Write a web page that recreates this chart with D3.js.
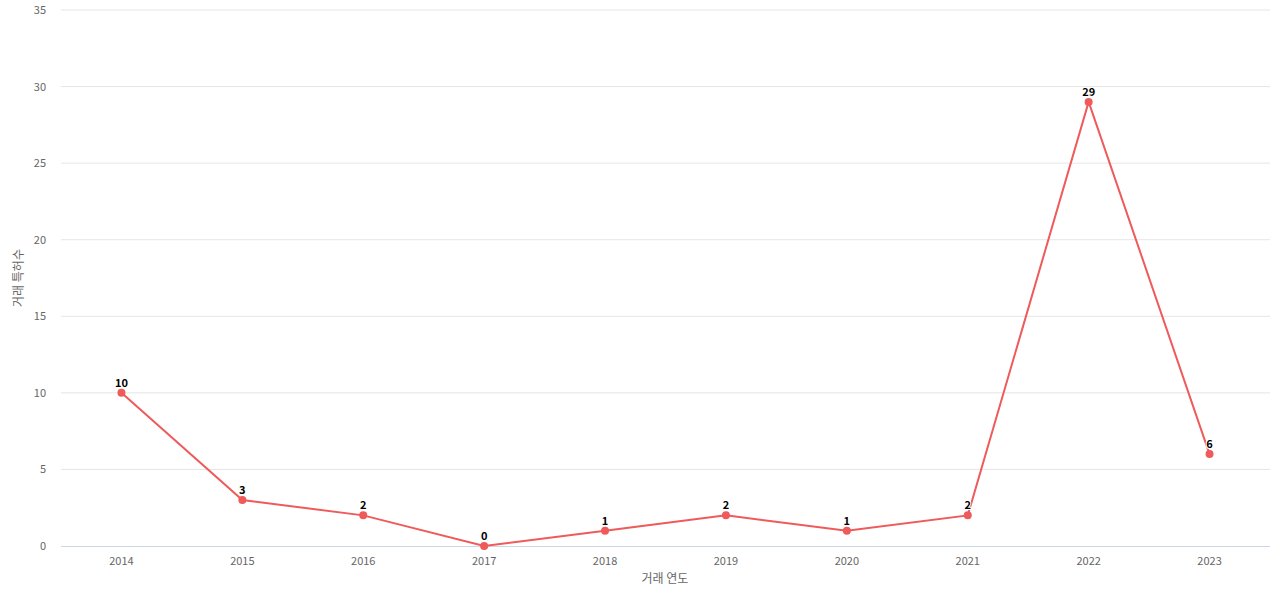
<!DOCTYPE html>
<html><head><meta charset="utf-8">
<script src="https://cdn.jsdelivr.net/npm/d3@7"></script>
<style>body{margin:0;background:#fff;font-family:"Noto Sans CJK KR","Noto Sans",sans-serif}</style>
</head><body><svg id="c" width="1280" height="600"></svg>
<script>
const years = ['2014','2015','2016','2017','2018','2019','2020','2021','2022','2023'];
const counts = [10, 3, 2, 0, 1, 2, 1, 2, 29, 6];
const yTicks = [0, 5, 10, 15, 20, 25, 30, 35];

const svg = d3.select('#c');
const plotL = 61, plotR = 1270, plotT = 10, plotB = 546;
const x = d3.scaleBand().domain(years).range([plotL, plotR]);
const y = d3.scaleLinear().domain([0, 35]).range([plotB, plotT]);
const cx = d => x(d) + x.bandwidth() / 2;
const font = '"Noto Sans CJK KR","Noto Sans",sans-serif';

// grid
svg.append('g').selectAll('line').data(yTicks.filter(t => t > 0)).join('line')
  .attr('x1', plotL).attr('x2', plotR)
  .attr('y1', d => y(d)).attr('y2', d => y(d))
  .attr('stroke', '#e6e6e6');
svg.append('line').attr('x1', plotL).attr('x2', plotR)
  .attr('y1', plotB + 0.5).attr('y2', plotB + 0.5).attr('stroke', '#ccd6eb');

// y tick labels
svg.append('g').selectAll('text').data(yTicks).join('text')
  .attr('x', 46).attr('y', d => y(d) + 4)
  .attr('text-anchor', 'end').attr('fill', '#666').attr('font-size', '11px')
  .attr('font-family', font).text(d => d);

// x tick labels
svg.append('g').selectAll('text').data(years).join('text')
  .attr('x', d => cx(d)).attr('y', 565)
  .attr('text-anchor', 'middle').attr('fill', '#666').attr('font-size', '11px')
  .attr('font-family', font).text(d => d);

// axis titles
svg.append('text').attr('x', 665).attr('y', 583).attr('text-anchor', 'middle')
  .attr('fill', '#666').attr('font-size', '12px').attr('font-family', font).text('거래 연도');
svg.append('text').attr('transform', `translate(23,${(plotT + plotB) / 2}) rotate(-90)`)
  .attr('text-anchor', 'middle').attr('fill', '#666').attr('font-size', '12px')
  .attr('font-family', font).text('거래 특허수');

const data = years.map((yr, i) => ({ yr, v: counts[i] }));
const color = '#ef5a5a';
svg.append('path').datum(data)
  .attr('fill', 'none').attr('stroke', color).attr('stroke-width', 2)
  .attr('d', d3.line().x(d => cx(d.yr)).y(d => y(d.v)));
svg.append('g').selectAll('circle').data(data).join('circle')
  .attr('cx', d => cx(d.yr)).attr('cy', d => y(d.v)).attr('r', 4).attr('fill', color);
svg.append('g').selectAll('text').data(data).join('text')
  .attr('x', d => cx(d.yr)).attr('y', d => y(d.v) - 6)
  .attr('text-anchor', 'middle').attr('font-size', '11px').attr('font-weight', 'bold')
  .attr('fill', '#000').attr('stroke', '#fff').attr('stroke-width', 2).attr('paint-order', 'stroke')
  .attr('font-family', font).text(d => d.v);
</script></body></html>
